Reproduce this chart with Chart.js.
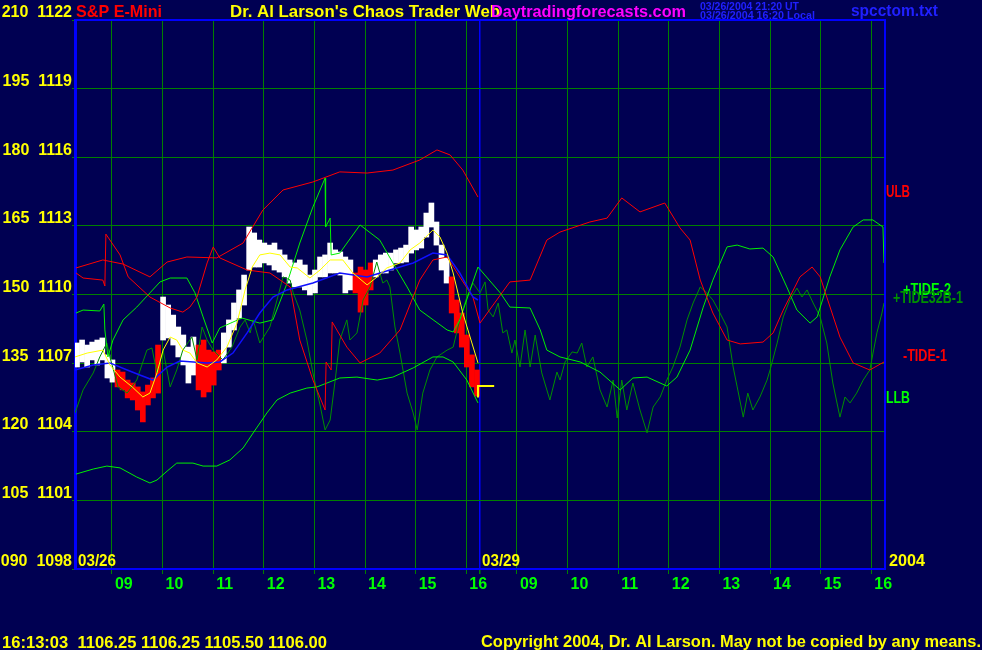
<!DOCTYPE html>
<html>
<head>
<meta charset="utf-8">
<title>S&amp;P E-Mini - Chaos Trader</title>
<script src="https://cdn.jsdelivr.net/npm/chart.js@4.4.1/dist/chart.umd.min.js"></script>
<style>
  html, body { margin: 0; padding: 0; background: #000052; }
  #wrap { width: 982px; height: 650px; }
</style>
</head>
<body>
<div id="wrap"><canvas id="line-chart" width="982" height="650"></canvas></div>
<script>
// x is session hours from the left edge: 03/26 runs 0..8, 03/29 runs 8..16
var dayBreak = 8;
var xTickPos = [0.73, 1.73, 2.73, 3.73, 4.73, 5.73, 6.73, 7.73, 8, 8.73, 9.73, 10.73, 11.73, 12.73, 13.73, 14.73, 15.73];
var xTickText = ["09", "10", "11", "12", "13", "14", "15", "16", "", "09", "10", "11", "12", "13", "14", "15", "16"];

// price axis, the left column is the oscillator count
var yTickValue = [1098, 1101, 1104, 1107, 1110, 1113, 1116, 1119, 1122];
var yTickCount = ["090", "105", "120", "135", "150", "165", "180", "195", "210"];

// price bars for 03/26 (one every 0.1 hr), U = up/white, D = down/red
var barFirst = 0.04;
var barStep = 0.1;
var barHigh = [1107.88, 1108.01, 1107.79, 1107.92, 1108.01, 1108.10, 1107.36, 1107.14,
  1106.70, 1106.61, 1106.26, 1106.13, 1105.96, 1105.74, 1106.04, 1106.35, 1107.79,
  1109.89, 1109.54, 1109.10, 1108.58, 1108.23, 1107.70, 1108.14,
  1107.79, 1108.01, 1107.57, 1107.49, 1107.57,
  1108.32, 1108.89, 1109.63, 1110.20, 1110.85, 1112.95, 1112.69, 1112.38, 1112.25, 1112.16, 1112.25, 1111.95, 1111.73,
  1111.51, 1111.38, 1111.51, 1111.29, 1110.85, 1111.07, 1111.64, 1111.73, 1112.25, 1111.95, 1111.86, 1111.64, 1111.51,
  1110.94, 1111.20, 1111.07, 1111.38,
  1111.51, 1111.73, 1111.81, 1111.81, 1111.95, 1112.03, 1112.16, 1112.95, 1112.82, 1112.95, 1113.56, 1114.00, 1113.17, 1112.16, 1111.60,
  1110.77, 1109.76, 1109.19, 1108.23, 1107.36, 1106.70];
var barLow = [1106.83, 1107.05, 1106.83, 1107.14, 1106.92, 1107.14, 1106.35, 1106.17,
  1105.96, 1105.83, 1105.48, 1105.39, 1104.95, 1104.43, 1105.17, 1105.48, 1105.69,
  1108.01, 1108.10, 1107.79, 1107.27, 1106.92, 1106.13, 1106.48,
  1105.83, 1105.52, 1105.74, 1106.04, 1106.70,
  1107.01, 1107.70, 1108.45, 1108.97, 1109.54, 1111.07, 1111.20, 1111.20, 1111.38, 1111.29, 1111.07, 1110.98, 1110.77,
  1110.50, 1110.33, 1110.33, 1110.20, 1109.98, 1110.07, 1110.77, 1110.77, 1110.94, 1110.94, 1110.85, 1110.07, 1110.20,
  1110.07, 1109.23, 1109.54, 1110.20,
  1110.77, 1110.94, 1110.94, 1111.07, 1111.38, 1111.38, 1111.42, 1111.81, 1111.95, 1112.03, 1112.51, 1112.95, 1112.16, 1111.07, 1110.50,
  1109.19, 1108.32, 1107.70, 1106.83, 1105.96, 1105.56];
var barTone = "UUUUUUUUDDDDDDDDDUUUUUUUDDDDDUUUUUUUUUUUUUUUUUUUUUUUUUUDDDDUUUUUUUUUUUUUUUDDDDDD".split("");

// last trade marker
var lastTime = [7.96, 7.96, 8.28];
var lastValue = [1105.50, 1106.00, 1106.00];

// fast average (yellow)
var fastTime = [0.00, 0.24, 0.55, 0.69, 0.89, 1.13, 1.34, 1.48, 1.62, 1.74, 1.88, 2.01, 2.13, 2.27, 2.41, 2.61, 2.80, 3.00, 3.20, 3.36,
  3.50, 3.65, 3.85, 4.05, 4.25, 4.39, 4.64, 4.84, 5.04, 5.29, 5.49, 5.77, 5.97, 6.16, 6.42, 6.62, 6.81, 7.07, 7.21, 7.35, 7.47, 7.66, 7.84, 7.96];
var fastValue = [1107.27, 1107.44, 1107.57, 1106.92, 1106.39, 1105.96, 1105.52, 1105.69, 1106.57, 1107.57, 1108.14, 1108.01, 1107.57, 1107.44,
  1107.01, 1106.83, 1107.14, 1107.70, 1108.75, 1110.20, 1111.20, 1111.73, 1111.81, 1111.73, 1111.20, 1111.16, 1110.72, 1111.07, 1111.51,
  1111.51, 1110.94, 1110.42, 1110.77, 1111.16, 1111.38, 1111.95, 1112.25, 1112.82, 1112.51, 1111.81, 1110.94, 1109.19, 1107.88, 1107.01];

// slow average (blue)
var slowTime = [0.00, 0.36, 0.69, 1.03, 1.28, 1.54, 1.82, 2.07, 2.61, 2.86, 3.12, 3.40, 3.65, 3.91, 4.19, 4.70, 5.23, 5.77, 6.22, 6.68,
  7.07, 7.35, 7.60, 7.86, 7.96];
var slowValue = [1106.70, 1106.92, 1107.01, 1106.70, 1106.48, 1106.26, 1106.83, 1107.09, 1107.01, 1107.05, 1107.44, 1108.32, 1109.19,
  1109.89, 1110.20, 1110.50, 1110.94, 1110.77, 1111.07, 1111.38, 1111.81, 1111.73, 1110.94, 1109.89, 1109.76];

// upper / lower limit bands for 03/26
var ulbTime = [0.02, 0.55, 0.95, 1.48, 1.82, 2.21, 2.80, 3.32, 3.71, 4.11, 4.70, 5.23, 5.77, 6.28, 6.81, 7.15, 7.41, 7.66, 7.96];
var ulbValue = [1111.16, 1111.51, 1111.33, 1110.77, 1111.42, 1111.64, 1111.60, 1112.25, 1113.69, 1114.57, 1114.92, 1115.36, 1115.31,
  1115.44, 1115.88, 1116.32, 1116.10, 1115.44, 1114.26];
var llbTime = [0.02, 0.36, 0.63, 0.89, 1.22, 1.48, 1.62, 1.82, 2.01, 2.33, 2.53, 2.80, 3.06, 3.32, 3.52, 3.79, 3.99, 4.25, 4.58, 4.78,
  5.23, 5.57, 5.97, 6.28, 6.68, 7.07, 7.27, 7.47, 7.74, 7.96];
var llbValue = [1102.15, 1102.37, 1102.50, 1102.42, 1102.02, 1101.76, 1101.89, 1102.28, 1102.63, 1102.63, 1102.50, 1102.50, 1102.77,
  1103.29, 1103.95, 1104.82, 1105.39, 1105.69, 1105.91, 1105.96, 1106.35, 1106.39, 1106.26, 1106.39, 1106.79, 1107.27, 1107.27,
  1107.05, 1106.26, 1105.26];

// -TIDE-1 (red)
var tide1Time = [0.02, 0.16, 0.55, 0.59, 0.61, 0.89, 1.05, 1.48, 1.88, 2.13, 2.27, 2.41, 2.61, 2.73, 2.86, 3.40, 3.85, 4.25, 4.44, 4.70,
  4.94, 4.96, 5.06, 5.08, 5.37, 5.63, 6.02, 6.42, 6.81, 7.07, 7.35, 7.60, 7.86, 8.00, 8.59, 8.99, 9.32, 9.58, 10.17, 10.51,
  10.80, 11.16, 11.65, 11.95, 12.15, 12.35, 12.60, 12.88, 13.14, 13.59, 13.79, 13.99, 14.32, 14.56, 14.72, 14.85, 15.11, 15.37, 15.70, 15.98];
var tide1Value = [1110.94, 1110.72, 1110.63, 1110.37, 1112.64, 1111.73, 1110.77, 1109.89, 1109.41, 1109.23, 1109.45, 1109.89, 1111.38,
  1112.08, 1111.60, 1111.07, 1110.94, 1110.33, 1108.01, 1106.26, 1104.95, 1107.05, 1106.70, 1108.80, 1107.70, 1107.01, 1107.44,
  1108.45, 1110.63, 1111.51, 1111.64, 1110.77, 1109.89, 1108.75, 1110.55, 1110.63, 1112.38, 1112.73, 1113.17, 1113.34, 1114.22,
  1113.61, 1114.00, 1112.91, 1112.38, 1110.63, 1109.19, 1108.01, 1107.84, 1107.92, 1108.32, 1109.32, 1110.77, 1111.20, 1110.77,
  1109.89, 1108.14, 1107.01, 1106.70, 1107.05];

// +TIDE-2 (bright green)
var tide2Time = [0.02, 0.16, 0.49, 0.57, 0.59, 0.65, 0.75, 0.95, 1.22, 1.48, 1.68, 1.88, 2.21, 2.37, 2.53, 2.71, 2.86, 3.30, 3.65, 3.91,
  4.19, 4.44, 4.70, 4.94, 4.95, 5.04, 5.06, 5.23, 5.63, 6.02, 6.28, 6.56, 6.81, 7.35, 7.47, 7.60, 7.96, 8.40, 8.59, 8.99,
  9.19, 9.32, 9.58, 9.98, 10.37, 10.77, 11.02, 11.30, 11.69, 11.89, 12.15, 12.41, 12.60, 12.88, 13.08, 13.33, 13.59, 13.79, 14.06, 14.26,
  14.52, 14.66, 14.91, 15.11, 15.37, 15.57, 15.76, 15.96, 15.98];
var tide2Value = [1109.19, 1109.32, 1109.28, 1109.58, 1108.45, 1107.27, 1108.01, 1108.89, 1109.45, 1110.07, 1110.55, 1110.72, 1110.72,
  1110.07, 1109.02, 1107.88, 1108.54, 1108.97, 1108.75, 1108.89, 1110.50, 1112.25, 1113.83, 1115.09, 1112.95, 1113.34, 1111.73,
  1111.81, 1113.04, 1112.38, 1111.38, 1110.33, 1109.32, 1108.45, 1108.36, 1108.89, 1111.20, 1110.07, 1109.45, 1109.41, 1108.45,
  1107.57, 1107.27, 1107.05, 1106.61, 1105.83, 1106.35, 1106.39, 1106.00, 1106.39, 1107.57, 1109.45, 1110.63, 1112.08, 1112.16,
  1111.99, 1112.03, 1111.64, 1110.33, 1109.32, 1108.75, 1109.02, 1110.77, 1111.95, 1112.95, 1113.26, 1113.26, 1112.95, 1111.38];

// +TIDE32B-1 (dark green)
var tide32Time = [0.00, 0.16, 0.36, 0.49, 0.63, 0.69, 0.85, 1.03, 1.22, 1.42, 1.52, 1.62, 1.74, 1.88, 2.01, 2.13, 2.31, 2.41, 2.51, 2.61,
  2.73, 2.92, 3.10, 3.26, 3.36, 3.46, 3.52, 3.65, 3.85, 3.99, 4.11, 4.25, 4.31, 4.44, 4.58, 4.70, 4.84, 4.94, 5.04, 5.14,
  5.23, 5.37, 5.43, 5.57, 5.69, 5.83, 5.96, 6.08, 6.16, 6.22, 6.32, 6.42, 6.56, 6.68, 6.76, 6.87, 7.01, 7.15, 7.35, 7.47,
  7.60, 7.74, 7.86, 8.00,
  8.10, 8.16, 8.26, 8.36, 8.45, 8.53, 8.63, 8.69, 8.79, 8.89, 8.99, 9.09, 9.22, 9.38, 9.52, 9.58, 9.68, 9.82, 9.92, 10.01,
  10.11, 10.23, 10.37, 10.51, 10.63, 10.71, 10.80, 10.90, 11.02, 11.16, 11.30, 11.42, 11.56, 11.69, 11.81, 11.95, 12.09, 12.21, 12.35, 12.48,
  12.60, 12.74, 12.88, 13.00, 13.08, 13.20, 13.29, 13.39, 13.53, 13.67, 13.73, 13.87, 13.99, 14.12, 14.26, 14.36, 14.46, 14.58, 14.72, 14.85,
  14.97, 15.11, 15.21, 15.31, 15.44, 15.57, 15.70, 15.84, 15.94, 15.98];
var tide32Value = [1104.82, 1105.83, 1106.57, 1107.27, 1107.88, 1107.27, 1105.96, 1105.69, 1106.26, 1107.57, 1107.66, 1106.57, 1107.57,
  1105.96, 1106.70, 1107.57, 1108.14, 1107.14, 1108.58, 1108.01, 1107.57, 1107.14, 1107.70, 1108.58, 1108.89, 1108.32, 1108.89,
  1107.88, 1108.58, 1109.76, 1110.77, 1110.63, 1110.07, 1109.32, 1108.01, 1106.57, 1105.17, 1104.08, 1104.51, 1106.26, 1108.01,
  1108.89, 1108.01, 1108.32, 1109.76, 1110.33, 1111.42, 1110.50, 1110.63, 1110.33, 1108.58, 1107.44, 1105.69, 1104.82, 1104.08,
  1105.69, 1106.70, 1107.27, 1107.57, 1107.70, 1108.89, 1109.89, 1110.50, 1110.07,
  1110.55, 1109.32, 1109.02, 1109.63, 1108.32, 1108.45, 1107.44, 1108.01, 1106.83, 1108.45, 1106.83, 1108.23, 1106.57, 1105.39,
  1106.61, 1106.26, 1107.05, 1107.49, 1107.44, 1107.88, 1106.83, 1107.27, 1105.83, 1105.08, 1106.26, 1104.60, 1106.26, 1104.95,
  1106.13, 1104.95, 1103.95, 1105.08, 1105.52, 1106.26, 1106.83, 1107.70, 1108.89, 1109.63, 1110.33, 1110.07, 1109.76, 1109.19,
  1108.58, 1106.83, 1105.96, 1104.64, 1105.69, 1104.95, 1105.52, 1106.26, 1106.70, 1107.88, 1109.02, 1109.76, 1110.28, 1109.89,
  1110.20, 1109.63, 1109.02, 1107.88, 1106.13, 1104.64, 1105.52, 1105.26, 1105.69, 1106.26, 1106.70, 1108.32, 1109.19, 1109.63];


document.addEventListener("DOMContentLoaded", function () {
    var ctx = document.getElementById("line-chart").getContext("2d");

    var navy = "#000052";
    var fontFamily = "'Liberation Sans', Arial, sans-serif";

    function pts(times, values) {
        return times.map(function (t, i) { return { x: t, y: values[i] }; });
    }

    function lineSet(label, times, values, colour, width, order) {
        return {
            type: "line",
            label: label,
            data: pts(times, values),
            borderColor: colour,
            borderWidth: width,
            pointRadius: 0,
            tension: 0,
            fill: false,
            order: order
        };
    }

    // draws a string squeezed/stretched to the width it has in the picture
    function fitText(c, text, x, y, colour, font, width) {
        c.save();
        c.font = font;
        c.fillStyle = colour;
        c.textAlign = "left";
        c.textBaseline = "alphabetic";
        var w = c.measureText(text).width;
        c.translate(x, y);
        if (width) c.scale(width / w, 1);
        c.fillText(text, 0, 0);
        c.restore();
    }

    var chaosFrame = {
        id: "chaosFrame",
        beforeDraw: function (chart) {
            var c = chart.ctx;
            c.save();
            c.fillStyle = navy;
            c.fillRect(0, 0, chart.width, chart.height);
            c.restore();
        },
        afterDraw: function (chart) {
            var c = chart.ctx;
            var a = chart.chartArea;
            var xs = chart.scales.x;

            // top and right edges of the frame
            c.save();
            c.strokeStyle = "#0000ff";
            c.lineWidth = 2;
            c.beginPath();
            c.moveTo(a.left, a.top);
            c.lineTo(a.right, a.top);
            c.lineTo(a.right, a.bottom);
            c.stroke();
            c.restore();

            var big = "bold 17px " + fontFamily;
            var small = "bold 10px " + fontFamily;

            // header
            fitText(c, "S&P E-Mini", 76, 17, "#ff0000", big, 86);
            fitText(c, "Dr. Al Larson's Chaos Trader Web", 230, 17, "#ffff00", big, 270);
            fitText(c, "Daytradingforecasts.com", 491, 17, "#ff00ff", big, 195);
            fitText(c, "03/26/2004 21:20 UT", 700, 10, "#2020ff", small, 99);
            fitText(c, "03/26/2004 16:20 Local", 700, 19, "#2020ff", small, 115);
            fitText(c, "spcctom.txt", 851, 16, "#2020ff", big, 87);

            // dates inside the frame
            fitText(c, "03/26", xs.getPixelForValue(0) + 3, a.bottom - 3, "#ffff00", big, 38);
            fitText(c, "03/29", xs.getPixelForValue(dayBreak) + 2, a.bottom - 3, "#ffff00", big, 38);
            fitText(c, "2004", a.right + 4, a.bottom - 3, "#ffff00", big, 36);

            // series names on the right
            fitText(c, "ULB", a.right + 1, 197, "#ff0000", big, 24);
            fitText(c, "+TIDE-2", a.right + 18, 295, "#00ff00", big, 48);
            fitText(c, "+TIDE32B-1", a.right + 8, 303, "#009000", big, 70);
            fitText(c, "-TIDE-1", a.right + 18, 361, "#ff0000", big, 44);
            fitText(c, "LLB", a.right + 1, 403, "#00ff00", big, 24);

            // footer
            fitText(c, "16:13:03  1106.25 1106.25 1105.50 1106.00", 2, 648, "#ffff00", big, 325);
            fitText(c, "Copyright 2004, Dr. Al Larson. May not be copied by any means.", 481, 647, "#ffff00", big, 500);
        }
    };

    var bars = barHigh.map(function (h, i) {
        return { x: barFirst + i * barStep, y: [barLow[i], h] };
    });

    var myChart = new Chart(ctx, {
        type: "line",
        data: {
            datasets: [
                lineSet("Fast average", fastTime, fastValue, "#ffff00", 1, 1),
                lineSet("Last", lastTime, lastValue, "#ffff00", 2, 1),
                lineSet("Slow average", slowTime, slowValue, "#1010ff", 1.5, 2),
                lineSet("ULB", ulbTime, ulbValue, "#ff0000", 1, 3),
                lineSet("-TIDE-1", tide1Time, tide1Value, "#ff0000", 1, 3),
                lineSet("+TIDE-2", tide2Time, tide2Value, "#00f000", 1, 4),
                lineSet("LLB", llbTime, llbValue, "#00f000", 1, 4),
                lineSet("+TIDE32B-1", tide32Time, tide32Value, "#009000", 1, 5),
                {
                    type: "bar",
                    label: "S&P E-Mini",
                    data: bars,
                    backgroundColor: barTone.map(function (t) { return t === "D" ? "#ff0000" : "#ffffff"; }),
                    borderWidth: 0,
                    barThickness: 5,
                    order: 9
                }
            ]
        },
        options: {
            responsive: false,
            animation: false,
            events: [],
            layout: { padding: { top: 20, right: 97, left: 0, bottom: 0 } },
            plugins: {
                legend: { display: false },
                tooltip: { enabled: false },
                title: { display: false }
            },
            scales: {
                x: {
                    type: "linear",
                    min: 0,
                    max: 16,
                    offset: false,
                    afterFit: function (scale) { scale.height = 81; },
                    afterBuildTicks: function (scale) {
                        scale.ticks = xTickPos.map(function (v) { return { value: v }; });
                    },
                    grid: {
                        offset: false,
                        color: function (c) { return c.tick && c.tick.value === dayBreak ? "#0000ff" : "#008000"; },
                        lineWidth: function (c) { return c.tick && c.tick.value === dayBreak ? 1.5 : 1; },
                        tickColor: "#008000",
                        tickLength: 5
                    },
                    border: { color: "#0000ff", width: 2 },
                    ticks: {
                        color: "#00ff00",
                        font: { family: fontFamily, size: 16, weight: "bold" },
                        align: "start",
                        labelOffset: 3,
                        padding: 1,
                        autoSkip: false,
                        maxRotation: 0,
                        callback: function (v, i) { return xTickText[i]; }
                    }
                },
                y: {
                    type: "linear",
                    min: 1098,
                    max: 1122,
                    beginAtZero: false,
                    afterFit: function (scale) { scale.width = 75; },
                    afterBuildTicks: function (scale) {
                        scale.ticks = yTickValue.map(function (v) { return { value: v }; });
                    },
                    grid: { color: "#008000", tickLength: 3 },
                    border: { color: "#0000ff", width: 3 },
                    ticks: {
                        color: "#ffff00",
                        font: { family: fontFamily, size: 16, weight: "bold" },
                        padding: 0,
                        labelOffset: -7,
                        autoSkip: false,
                        callback: function (v, i) { return yTickCount[i] + "  " + yTickValue[i]; }
                    }
                }
            }
        },
        plugins: [chaosFrame]
    });
});
</script>
</body>
</html>
